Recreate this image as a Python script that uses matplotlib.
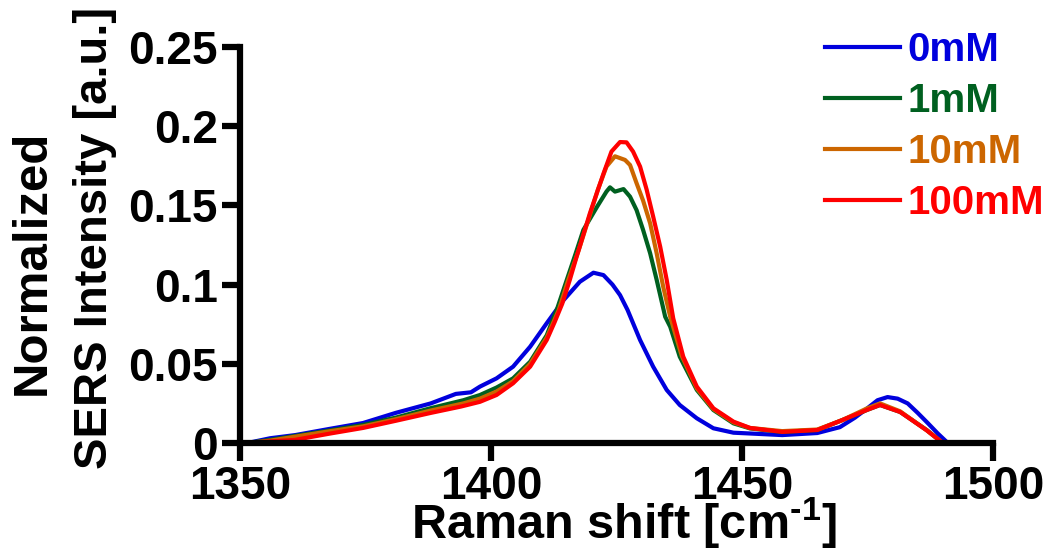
import matplotlib
matplotlib.use("Agg")
import matplotlib.pyplot as plt

plt.rcParams['font.family'] = ['Liberation Sans', 'DejaVu Sans']
plt.rcParams['font.weight'] = 'bold'
plt.rcParams['mathtext.fontset'] = 'custom'
plt.rcParams['mathtext.rm'] = 'Liberation Sans:bold'
plt.rcParams['mathtext.bf'] = 'Liberation Sans:bold'
plt.rcParams['mathtext.default'] = 'bf'

# ---- data ----
labels = ["0mM", "1mM", "10mM", "100mM"]
colors = ["#0000DD", "#006020", "#CC6600", "#FF0000"]

x_0mM = [1351.5, 1356, 1361, 1368, 1374.5, 1381, 1388, 1393, 1396, 1397.8, 1401.1, 1404.4,
         1407.8, 1411.1, 1414.4, 1417.7, 1420.4, 1422.4, 1424.2, 1425.7, 1427.2, 1429.7,
         1432.3, 1435.0, 1437.6, 1441.0, 1444.3, 1448.3, 1451.6, 1458, 1465, 1469.5, 1472.5,
         1475, 1477, 1479, 1481, 1483, 1485, 1487, 1489, 1491]
y_0mM = [0.000, 0.003, 0.005, 0.009, 0.0126, 0.019, 0.025, 0.031, 0.032, 0.0356, 0.0408,
         0.0482, 0.0608, 0.0756, 0.090, 0.1018, 0.1075, 0.106, 0.100, 0.0934, 0.084, 0.065,
         0.0482, 0.0335, 0.024, 0.0156, 0.0093, 0.0065, 0.006, 0.005, 0.0063, 0.010, 0.016,
         0.022, 0.027, 0.029, 0.028, 0.025, 0.019, 0.0126, 0.006, 0.000]

x_1mM = [1351.5, 1356, 1361, 1368, 1374.5, 1381, 1388, 1394.5, 1397.8, 1401.1, 1404.4,
         1407.8, 1411.1, 1413.2, 1415.1, 1416.8, 1418.4, 1421.1, 1423.0, 1423.7, 1424.7,
         1426.4, 1427.7, 1429.0, 1430.3, 1431.7, 1433.0, 1434.7, 1435.7, 1437.6, 1441.0,
         1444.3, 1448.3, 1451.6, 1458, 1465, 1470, 1475, 1477.5, 1481.5, 1486.8, 1490]
y_1mM = [0.000, 0.002, 0.0045, 0.008, 0.0114, 0.016, 0.022, 0.027, 0.0303, 0.035, 0.0408,
         0.0513, 0.068, 0.085, 0.103, 0.119, 0.1345, 0.149, 0.1587, 0.1614, 0.1587, 0.1603,
         0.1555, 0.147, 0.1345, 0.1198, 0.103, 0.0797, 0.0734, 0.0545, 0.0335, 0.0208,
         0.0124, 0.0092, 0.007, 0.0082, 0.0145, 0.021, 0.024, 0.0196, 0.0082, 0.000]

x_10mM = [1351.5, 1356, 1361, 1368, 1374.5, 1381, 1388, 1394.5, 1397.8, 1401.1, 1404.4,
          1407.8, 1411.1, 1413.5, 1415.4, 1417.5, 1419.7, 1421.3, 1423.0, 1424.7, 1426.7,
          1427.7, 1429.0, 1430.3, 1431.7, 1433.0, 1434.3, 1435.7, 1438.0, 1441.0, 1444.3,
          1448.3, 1451.6, 1458, 1465, 1470, 1475, 1477.5, 1481.5, 1486.8, 1490]
y_10mM = [0.000, 0.0015, 0.004, 0.0075, 0.0105, 0.015, 0.0205, 0.025, 0.028, 0.0325, 0.039,
          0.050, 0.0665, 0.084, 0.103, 0.122, 0.144, 0.160, 0.1745, 0.181, 0.1787, 0.1755,
          0.164, 0.153, 0.1387, 0.1198, 0.0987, 0.0797, 0.055, 0.0345, 0.0214, 0.013,
          0.0095, 0.0075, 0.0085, 0.0145, 0.022, 0.025, 0.020, 0.008, 0.000]

x_100mM = [1351.5, 1356, 1361, 1368, 1374.5, 1381, 1388, 1394, 1397.8, 1401.1, 1404.4,
           1407.8, 1411.1, 1412.7, 1414.2, 1415.7, 1417.0, 1419.7, 1422.4, 1424.0, 1425.7,
           1427.0, 1428.3, 1429.7, 1431.0, 1432.3, 1433.7, 1435.0, 1436.3, 1438.3, 1441.0,
           1444.3, 1448.3, 1451.6, 1458, 1465, 1470, 1475, 1477.5, 1481.5, 1486.8, 1490]
y_100mM = [0.000, 0.001, 0.002, 0.006, 0.0095, 0.014, 0.019, 0.023, 0.026, 0.0303, 0.0377,
           0.0482, 0.065, 0.0765, 0.088, 0.103, 0.117, 0.145, 0.170, 0.184, 0.190, 0.1898,
           0.184, 0.1745, 0.160, 0.143, 0.124, 0.103, 0.0787, 0.0545, 0.0356, 0.0219, 0.0135,
           0.0095, 0.007, 0.0082, 0.0145, 0.021, 0.024, 0.0196, 0.008, 0.000]

xs = [x_0mM, x_1mM, x_10mM, x_100mM]
ys = [y_0mM, y_1mM, y_10mM, y_100mM]

x_ticks = [1350, 1400, 1450, 1500]
y_ticks = [0, 0.05, 0.1, 0.15, 0.2, 0.25]
y_ticklabels = ["0", "0.05", "0.1", "0.15", "0.2", "0.25"]

W, H = 1052, 552

# ---- figure ----
fig = plt.figure(figsize=(W/100, H/100), dpi=100)
ax = fig.add_axes([240/W, 1 - 443/H, (993-240)/W, (443-47)/H])

for x, y, c, lab in zip(xs, ys, colors, labels):
    ax.plot(x, y, color=c, lw=3.0, label=lab, solid_joinstyle='round')

ax.set_xlim(1350, 1500)
ax.set_ylim(0, 0.25)
ax.set_xticks(x_ticks)
ax.set_yticks(y_ticks)
ax.set_yticklabels(y_ticklabels)

for s in ['top', 'right']:
    ax.spines[s].set_visible(False)
for s in ['left', 'bottom']:
    ax.spines[s].set_linewidth(4.5)
    ax.spines[s].set_capstyle('projecting')

ax.tick_params(axis='both', direction='out', length=13, width=4.5, labelsize=33, pad=3)
ax.tick_params(axis='x', pad=3)
for t in ax.get_xticklabels() + ax.get_yticklabels():
    t.set_fontweight('bold')

ax.set_xlabel("Raman shift [cm$^{\u2010 1}$]", fontsize=35, fontweight='bold', labelpad=-10)
ax.xaxis.label.set_x(0.5 + 7/753)

# two-line y label placed line by line
fig.text(32/W, 1 - 262/H, "Normalized", rotation=90, ha='center', va='center',
         fontsize=35.5, fontweight='bold')
fig.text(95/W, 1 - 238/H, "SERS Intensity [a.u.]", rotation=90, ha='center', va='center',
         fontsize=34, fontweight='bold')

leg = ax.legend(loc='upper left', bbox_to_anchor=(825/W, 1 - 31/H),
                bbox_transform=fig.transFigure, frameon=False,
                prop={'size': 29, 'weight': 'bold'}, handlelength=1.85,
                handletextpad=0.2, labelspacing=0.32, borderpad=0, borderaxespad=0,
                labelcolor='linecolor')
for h in leg.get_lines():
    h.set_linewidth(3.0)

fig.savefig("out.png", dpi=100)
